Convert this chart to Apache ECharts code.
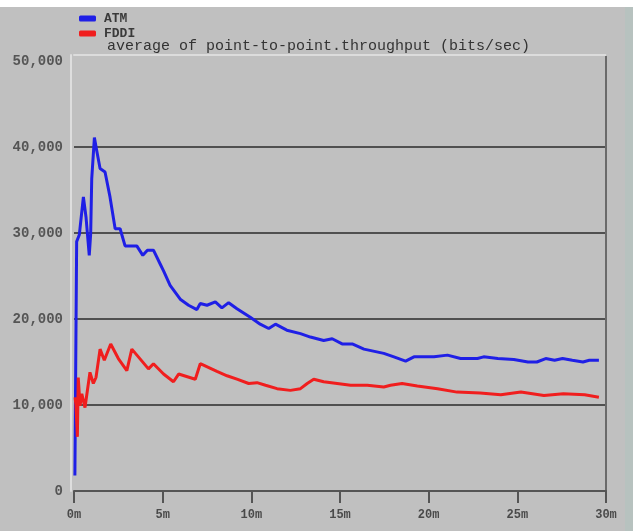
<!DOCTYPE html>
<html>
<head>
<meta charset="utf-8">
<script src="https://cdn.jsdelivr.net/npm/echarts@6/dist/echarts.min.js"></script>
<style>
html,body{margin:0;padding:0;background:#ffffff;width:633px;height:531px;overflow:hidden;}
#strip{position:absolute;left:625px;top:7px;width:8px;height:524px;background:#b7c2bf;}
#chart{position:absolute;left:0;top:7px;width:625px;height:524px;}
</style>
</head>
<body>
<div id="strip"></div>
<div id="chart"></div>
<script>
// time in minutes, values in bits/sec
const atmTime = [0.05,0.15,0.3,0.53,0.68,0.86,0.94,1.0,1.15,1.28,1.47,1.75,2.03,2.32,2.6,2.88,3.54,3.88,4.14,4.48,4.86,5.05,5.42,5.99,6.46,6.93,7.12,7.5,7.97,8.34,8.72,9.19,9.94,10.5,10.98,11.36,12.0,12.77,13.33,14.08,14.56,15.12,15.69,16.35,17.47,18.04,18.7,19.17,20.3,21.06,21.8,22.75,23.1,23.9,24.8,25.6,26.1,26.6,27.1,27.55,28.1,28.7,29.06,29.6];
const atmValue = [1800,29000,29800,34200,31800,27400,29900,36300,41100,39600,37500,37100,34200,30500,30500,28500,28500,27400,28000,28000,26400,25600,23900,22300,21600,21100,21800,21600,22000,21300,21900,21200,20200,19400,18900,19400,18700,18300,17900,17500,17700,17100,17100,16500,16000,15600,15100,15600,15600,15800,15400,15400,15600,15400,15300,15000,15000,15400,15200,15400,15200,15000,15200,15200];
const fddiTime = [0.06,0.11,0.19,0.24,0.34,0.44,0.62,0.9,1.09,1.24,1.47,1.71,2.07,2.5,2.98,3.26,3.63,4.2,4.48,5.05,5.61,5.9,6.84,7.12,8.06,8.63,9.19,9.85,10.32,10.8,11.45,12.2,12.77,13.15,13.52,14.08,14.84,15.6,16.54,17.47,17.85,18.5,19.36,20.5,21.6,22.9,24.07,25.2,26.5,27.6,28.8,29.6];
const fddiValue = [10900,10000,6300,13200,9900,11300,9700,13800,12500,13200,16500,15200,17100,15400,14000,16500,15600,14200,14800,13600,12700,13600,13000,14800,13900,13400,13000,12500,12600,12300,11900,11700,11900,12500,13000,12700,12500,12300,12300,12100,12300,12500,12200,11900,11500,11400,11200,11500,11100,11300,11200,10900];
const seriesNames = ['ATM','FDDI'];
const xTicks = [0,5,10,15,20,25,30];
const yTicks = [0,10000,20000,30000,40000,50000];
const chartTitle = 'average of point-to-point.throughput (bits/sec)';

const pairs = (xs, ys) => xs.map((x, i) => [x, ys[i]]);
const mono = '"Liberation Mono", "DejaVu Sans Mono", monospace';
const yMax = 50700;

const chart = echarts.init(document.getElementById('chart'));
chart.setOption({
  animation: false,
  backgroundColor: '#c0c0c0',
  title: {
    text: chartTitle,
    left: 102,
    top: 27,
    textStyle: {fontFamily: mono, fontSize: 15, fontWeight: 'normal', color: '#333333'}
  },
  legend: {
    orient: 'vertical',
    left: 74,
    top: 0,
    itemGap: 2,
    itemWidth: 17,
    itemHeight: 6,
    icon: 'roundRect',
    data: seriesNames,
    textStyle: {fontFamily: mono, fontSize: 13, fontWeight: 'bold', color: '#3a3a3a', padding: [0,0,0,3]}
  },
  grid: {left: 74, right: 19, top: 48, bottom: 40},
  xAxis: [{
    type: 'value',
    min: xTicks[0],
    max: xTicks[xTicks.length - 1],
    interval: 5,
    axisLine: {show: true, onZero: false, lineStyle: {color: '#555555', width: 2}},
    axisTick: {show: true, length: 12, lineStyle: {color: '#555555', width: 2}},
    axisLabel: {fontFamily: mono, fontSize: 12, fontWeight: 'bold', color: '#4a4a4a', margin: 18,
      formatter: v => xTicks.includes(v) ? v + 'm' : ''},
    splitLine: {show: false}
  }, {
    type: 'value', position: 'top',
    min: xTicks[0], max: xTicks[xTicks.length - 1],
    axisLine: {show: true, onZero: false, lineStyle: {color: '#dcdcdc', width: 2}},
    axisTick: {show: false}, axisLabel: {show: false}, splitLine: {show: false}
  }],
  yAxis: [{
    type: 'value',
    min: 0,
    max: yMax,
    interval: 10000,
    axisLine: {show: false, onZero: false},
    axisTick: {show: false},
    axisLabel: {fontFamily: mono, fontSize: 14, fontWeight: 'bold', color: '#555555', margin: 11, showMaxLabel: false,
      formatter: v => yTicks.includes(v) ? v.toLocaleString('en-US') : ''},
    splitLine: {show: true, showMinLine: false, showMaxLine: false,
      lineStyle: {color: ['#505050', '#505050', '#505050', '#505050', 'rgba(0,0,0,0)'], width: 2}}
  }, {
    type: 'value', position: 'right', min: 0, max: yMax,
    axisLine: {show: true, onZero: false, lineStyle: {color: '#6a6a6a', width: 2}},
    axisTick: {show: false}, axisLabel: {show: false}, splitLine: {show: false}
  }, {
    type: 'value', position: 'left', offset: 3, min: 0, max: yMax,
    axisLine: {show: true, onZero: false, lineStyle: {color: '#dedede', width: 2}},
    axisTick: {show: false}, axisLabel: {show: false}, splitLine: {show: false}
  }],
  series: [{
    name: seriesNames[0],
    type: 'line',
    data: pairs(atmTime, atmValue),
    showSymbol: false,
    color: '#1f1fe6',
    lineStyle: {width: 3, color: '#1f1fe6'},
    z: 3
  }, {
    name: seriesNames[1],
    type: 'line',
    data: pairs(fddiTime, fddiValue),
    showSymbol: false,
    color: '#f01e1e',
    lineStyle: {width: 3, color: '#f01e1e'},
    z: 4
  }]
});
</script>
</body>
</html>
